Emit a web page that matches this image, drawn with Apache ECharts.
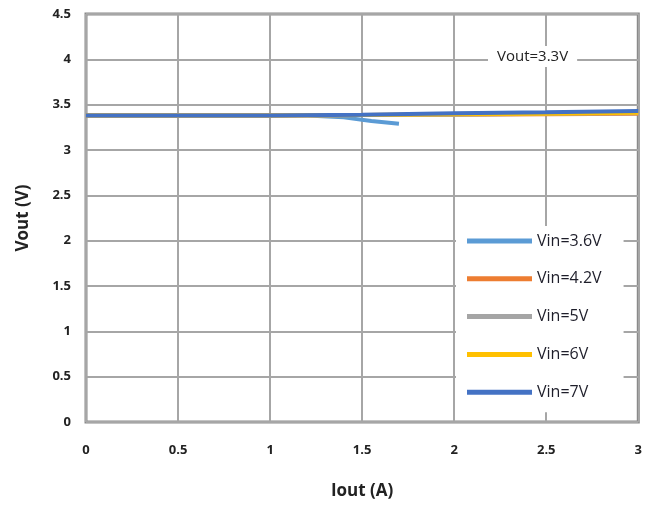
<!DOCTYPE html>
<html>
<head>
<meta charset="utf-8">
<title>Vout vs Iout</title>
<script src="https://cdn.jsdelivr.net/npm/echarts@6/dist/echarts.min.js"></script>
<style>
  html, body { margin: 0; padding: 0; background: #fff; }
  #main { width: 645px; height: 506px; }
</style>
</head>
<body>
<div id="main"></div>
<script type="text/javascript">
// data: [Iout (A), Vout (V)]
var seriesNames = ['Vin=3.6V', 'Vin=4.2V', 'Vin=5V', 'Vin=6V', 'Vin=7V'];
var vin36 = [[0, 3.38], [0.5, 3.38], [1, 3.38], [1.2, 3.38], [1.4, 3.36], [1.55, 3.32], [1.7, 3.29]];
var vin42 = [[0, 3.38], [0.5, 3.38], [1, 3.38], [1.5, 3.385], [2, 3.39], [2.5, 3.395], [3, 3.40]];
var vin5  = [[0, 3.38], [0.5, 3.38], [1, 3.38], [1.5, 3.385], [2, 3.39], [2.5, 3.40], [3, 3.405]];
var vin6  = [[0, 3.38], [0.5, 3.38], [1, 3.38], [1.5, 3.385], [2, 3.395], [2.5, 3.40], [3, 3.41]];
var vin7  = [[0, 3.38], [0.5, 3.38], [1, 3.38], [1.5, 3.39], [2, 3.405], [2.5, 3.415], [3, 3.43]];
var colors = ['#5B9BD5', '#ED7D31', '#A5A5A5', '#FFC000', '#4472C4'];
var xTicks = { min: 0, max: 3, interval: 0.5 };
var yTicks = { min: 0, max: 4.5, interval: 0.5 };

var font = 'Open Sans';
var myChart = echarts.init(document.getElementById('main'));

function mk(name, data, color) {
    return {
        name: name,
        type: 'line',
        data: data,
        showSymbol: false,
        smooth: false,
        lineStyle: { width: 4, color: color },
        itemStyle: { color: color }
    };
}

myChart.setOption({
    animation: false,
    color: colors,
    title: {
        text: 'Vout=3.3V',
        left: 488,
        top: 46,
        backgroundColor: '#fff',
        padding: [3, 9],
        textStyle: { fontFamily: font, fontSize: 15, fontWeight: 'normal', color: '#222' }
    },
    legend: {
        orient: 'vertical',
        left: 456,
        top: 226,
        backgroundColor: '#fff',
        padding: [7, 22, 12, 11],
        itemWidth: 65,
        itemHeight: 5,
        itemGap: 21.8,
        icon: 'rect',
        data: seriesNames,
        textStyle: { fontFamily: font, fontSize: 16, color: '#1e1e2a' }
    },
    grid: {
        left: 86,
        right: 5,
        top: 14,
        bottom: 84,
        show: true,
        borderColor: '#8a8a8a',
        borderWidth: 3
    },
    xAxis: {
        type: 'value',
        min: xTicks.min,
        max: xTicks.max,
        interval: xTicks.interval,
        name: 'Iout (A)',
        nameLocation: 'middle',
        nameGap: 61,
        nameTextStyle: { fontFamily: font, fontSize: 17, fontWeight: 'bold', color: '#222' },
        axisLine: { show: false },
        axisTick: { show: false },
        axisLabel: { fontFamily: font, fontSize: 13, fontWeight: 'bold', color: '#222', margin: 22 },
        splitLine: { show: true, lineStyle: { color: '#a6a6a6', width: 2 } }
    },
    yAxis: {
        type: 'value',
        min: yTicks.min,
        max: yTicks.max,
        interval: yTicks.interval,
        name: 'Vout (V)',
        nameLocation: 'middle',
        nameGap: 54,
        nameTextStyle: { fontFamily: font, fontSize: 17, fontWeight: 'bold', color: '#222' },
        axisLine: { show: false },
        axisTick: { show: false },
        axisLabel: { fontFamily: font, fontSize: 13, fontWeight: 'bold', color: '#222', margin: 15 },
        splitLine: { show: true, lineStyle: { color: '#a6a6a6', width: 2 } }
    },
    series: [
        mk(seriesNames[0], vin36, colors[0]),
        mk(seriesNames[1], vin42, colors[1]),
        mk(seriesNames[2], vin5, colors[2]),
        mk(seriesNames[3], vin6, colors[3]),
        mk(seriesNames[4], vin7, colors[4])
    ]
});
</script>
</body>
</html>
